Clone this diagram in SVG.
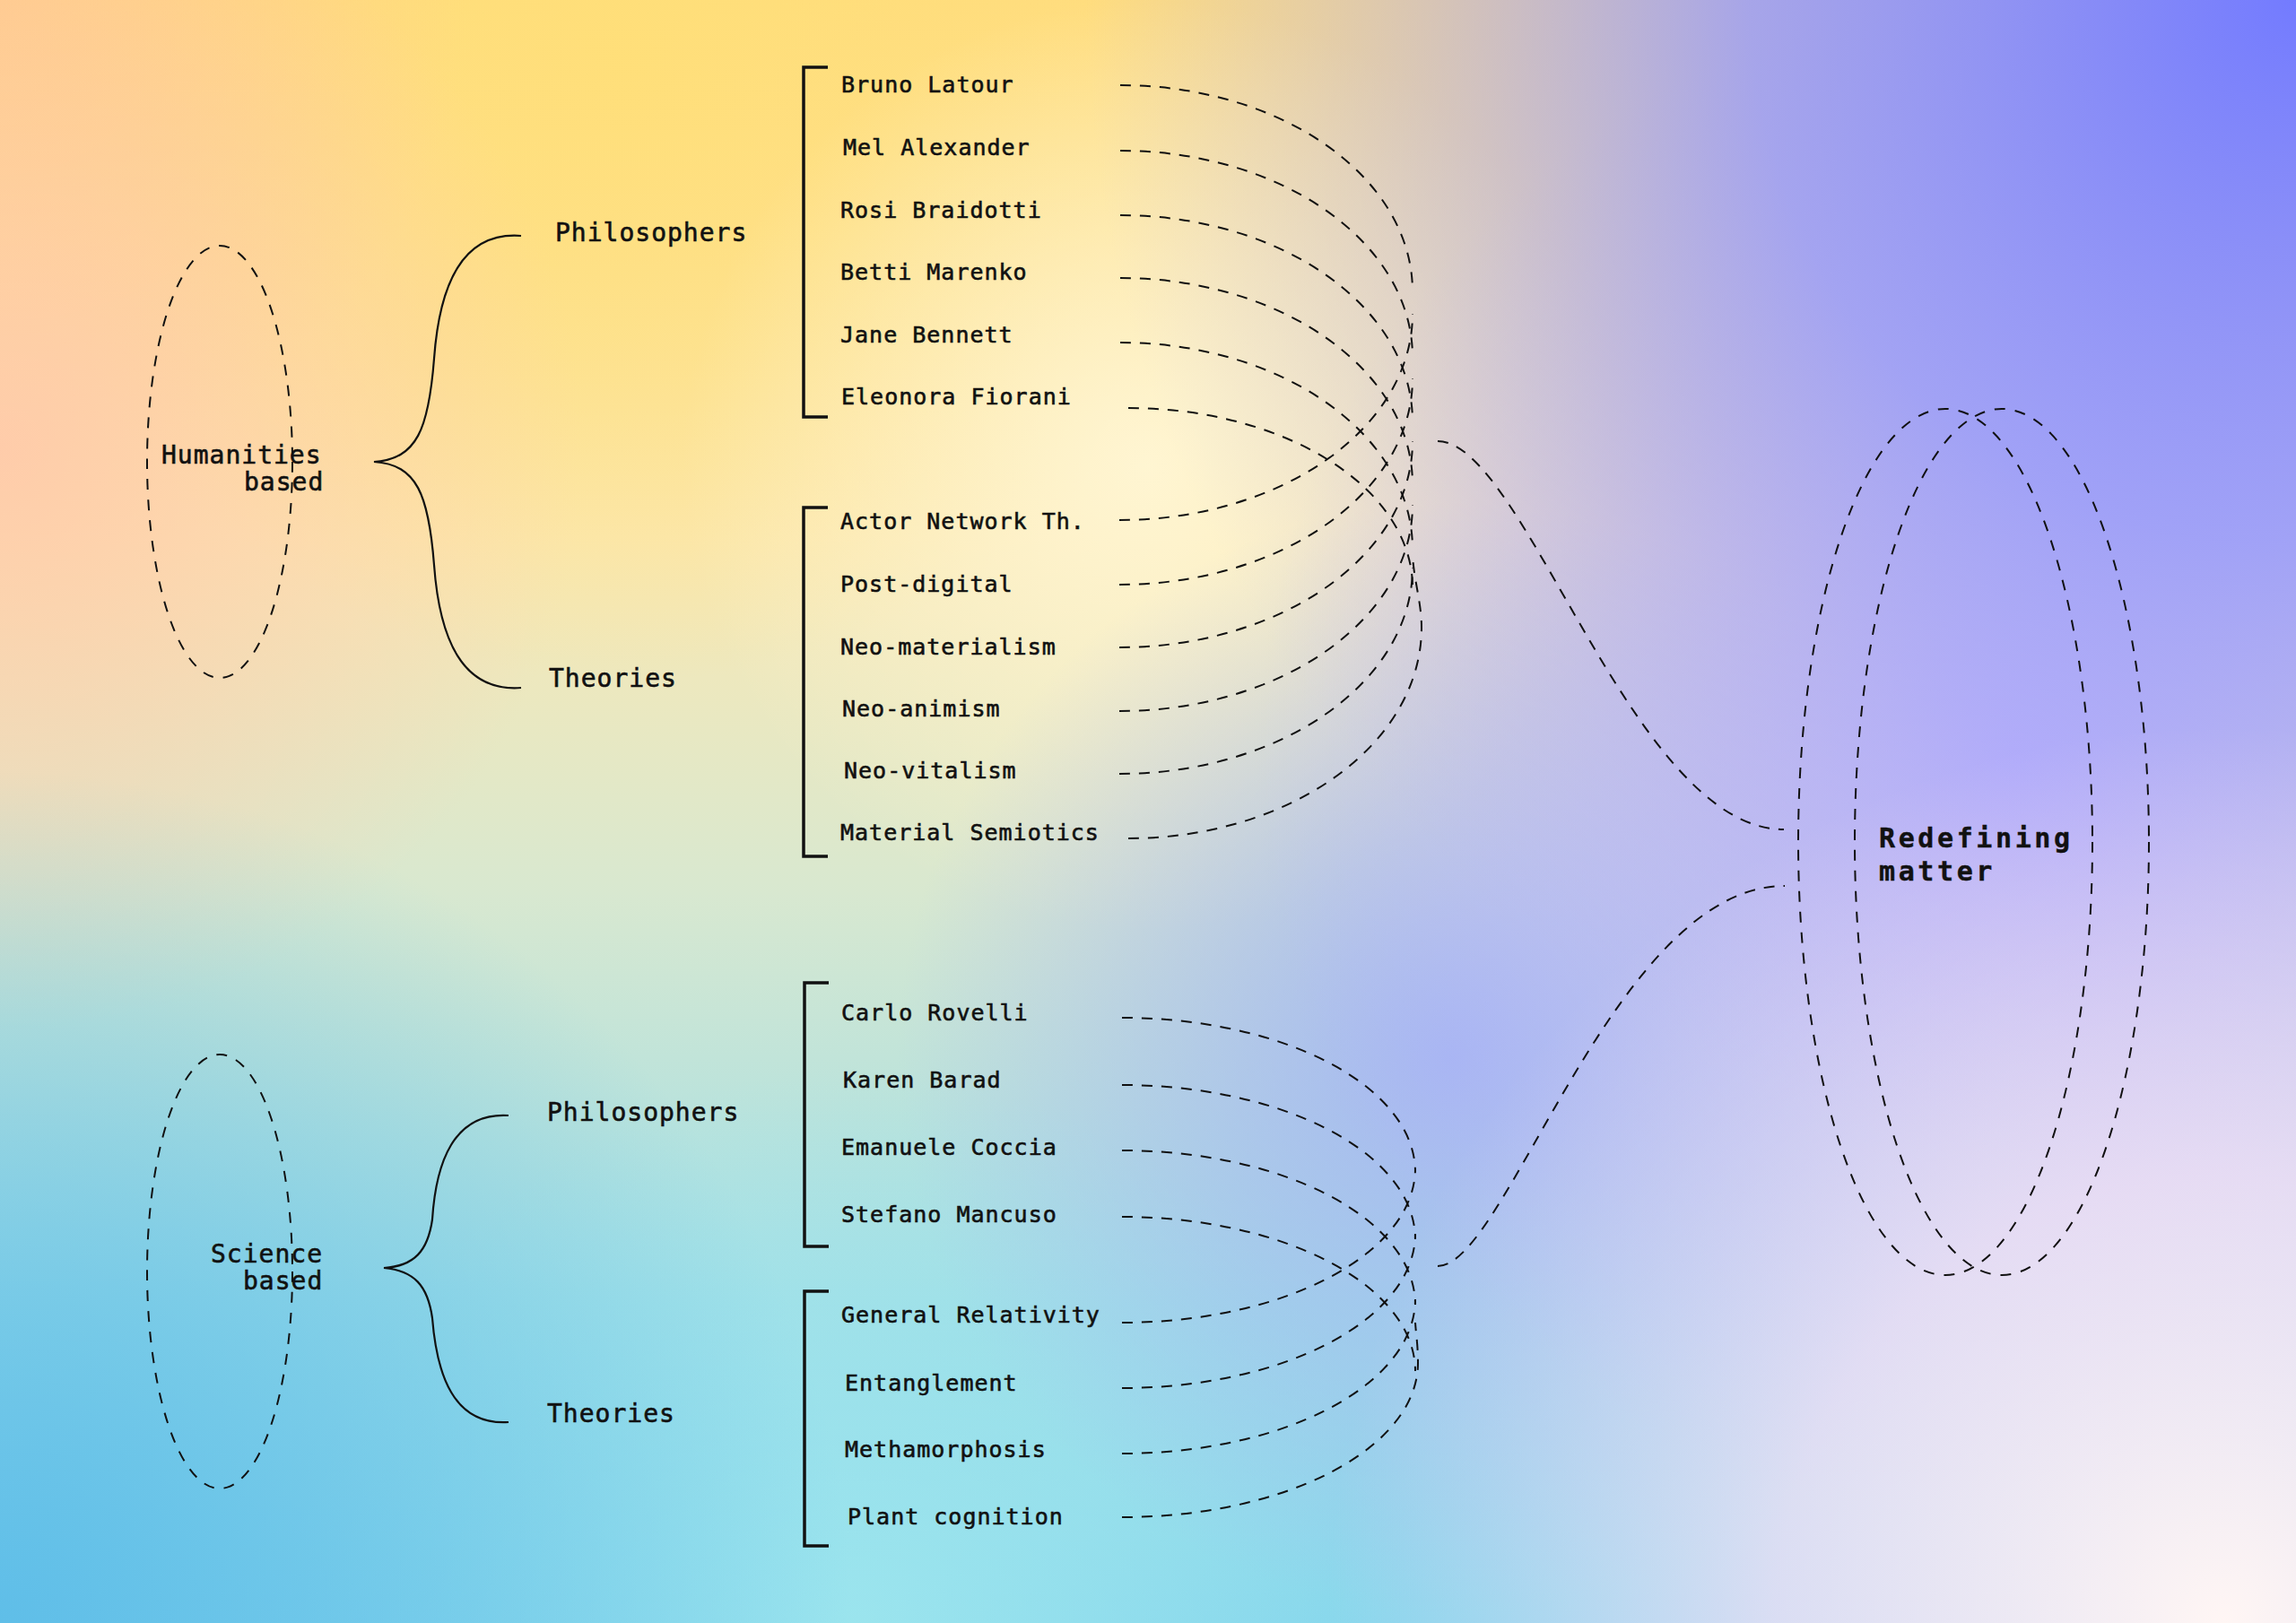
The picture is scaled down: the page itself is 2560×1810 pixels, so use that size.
<svg xmlns="http://www.w3.org/2000/svg" width="2560" height="1810" viewBox="0 0 2560 1810">
<defs>
<style>
.t{font-family:"DejaVu Sans Mono","Liberation Mono",monospace;fill:#111;stroke:#111;stroke-width:0.6px}
.h{font-size:28px;letter-spacing:1px}
.n{font-size:25px;letter-spacing:1px}
.ttl{font-size:30px;font-weight:bold;letter-spacing:3.6px;stroke-width:0.4px}
.dash{fill:none;stroke:#111;stroke-width:2;stroke-dasharray:12 10}
.oval{fill:none;stroke:#111;stroke-width:2;stroke-dasharray:12 11}
.brace{fill:none;stroke:#111;stroke-width:2.2}
.bracket{fill:none;stroke:#111;stroke-width:3.5}
</style>
<linearGradient id="base" x1="0" y1="0" x2="0" y2="1">
<stop offset="0" stop-color="#FFDC80"/>
<stop offset="0.33" stop-color="#FBE8B2"/>
<stop offset="0.55" stop-color="#D8E8D0"/>
<stop offset="0.8" stop-color="#A0DEE6"/>
<stop offset="1" stop-color="#86D6EC"/>
</linearGradient>
<radialGradient id="g1" gradientUnits="userSpaceOnUse" cx="2560" cy="0" r="1350">
<stop offset="0" stop-color="#737BFF"/>
<stop offset="0.45" stop-color="#979BFB" stop-opacity="0.85"/>
<stop offset="1" stop-color="#B4B4F4" stop-opacity="0"/>
</radialGradient>
<radialGradient id="g2" gradientUnits="userSpaceOnUse" cx="2480" cy="1810" r="1000">
<stop offset="0" stop-color="#FFF6F4"/>
<stop offset="0.5" stop-color="#F6E0F6" stop-opacity="0.75"/>
<stop offset="1" stop-color="#EBD5F8" stop-opacity="0"/>
</radialGradient>
<radialGradient id="g3" gradientUnits="userSpaceOnUse" cx="2250" cy="850" r="850">
<stop offset="0" stop-color="#BEB0FF" stop-opacity="0.95"/>
<stop offset="1" stop-color="#BEB0FF" stop-opacity="0"/>
</radialGradient>
<radialGradient id="g4" gradientUnits="userSpaceOnUse" cx="1620" cy="1180" r="620">
<stop offset="0" stop-color="#A4B4F3" stop-opacity="0.95"/>
<stop offset="1" stop-color="#A4B4F3" stop-opacity="0"/>
</radialGradient>
<radialGradient id="g5" gradientUnits="userSpaceOnUse" cx="1280" cy="520" r="520">
<stop offset="0" stop-color="#FFF6D4" stop-opacity="0.95"/>
<stop offset="1" stop-color="#FFF6D4" stop-opacity="0"/>
</radialGradient>
<radialGradient id="g6" gradientUnits="userSpaceOnUse" cx="0" cy="500" r="650">
<stop offset="0" stop-color="#FFC9AA" stop-opacity="0.9"/>
<stop offset="1" stop-color="#FFC9AA" stop-opacity="0"/>
</radialGradient>
<radialGradient id="g7" gradientUnits="userSpaceOnUse" cx="0" cy="0" r="520">
<stop offset="0" stop-color="#FFC890" stop-opacity="0.8"/>
<stop offset="1" stop-color="#FFC890" stop-opacity="0"/>
</radialGradient>
<radialGradient id="g8" gradientUnits="userSpaceOnUse" cx="0" cy="1810" r="950">
<stop offset="0" stop-color="#5FBEE8"/>
<stop offset="1" stop-color="#5FBEE8" stop-opacity="0"/>
</radialGradient>
<radialGradient id="g9" gradientUnits="userSpaceOnUse" cx="950" cy="1810" r="620">
<stop offset="0" stop-color="#A0E8EE" stop-opacity="0.8"/>
<stop offset="1" stop-color="#A0E8EE" stop-opacity="0"/>
</radialGradient>
<radialGradient id="g10" gradientUnits="userSpaceOnUse" cx="700" cy="60" r="700">
<stop offset="0" stop-color="#FFDF78" stop-opacity="0.9"/>
<stop offset="1" stop-color="#FFDF78" stop-opacity="0"/>
</radialGradient>
</defs>

<g id="background">
<rect width="2560" height="1810" fill="url(#base)"/>
<rect width="2560" height="1810" fill="url(#g10)"/>
<rect width="2560" height="1810" fill="url(#g7)"/>
<rect width="2560" height="1810" fill="url(#g6)"/>
<rect width="2560" height="1810" fill="url(#g5)"/>
<rect width="2560" height="1810" fill="url(#g9)"/>
<rect width="2560" height="1810" fill="url(#g8)"/>
<rect width="2560" height="1810" fill="url(#g4)"/>
<rect width="2560" height="1810" fill="url(#g3)"/>
<rect width="2560" height="1810" fill="url(#g1)"/>
<rect width="2560" height="1810" fill="url(#g2)"/>
</g>

<g id="connectors">
<path class="dash" d="M1249,95 A326,230 0 0 1 1575,325"/>
<path class="dash" d="M1249,168 A326,230 0 0 1 1575,398"/>
<path class="dash" d="M1249,240 A326,230 0 0 1 1575,470"/>
<path class="dash" d="M1249,310 A326,230 0 0 1 1575,540"/>
<path class="dash" d="M1249,382 A326,230 0 0 1 1575,612"/>
<path class="dash" d="M1258,455 A317,200 0 0 1 1575,655"/>
<path class="dash" d="M1248,580 A327,230 0 0 0 1575,350"/>
<path class="dash" d="M1248,652 A327,230 0 0 0 1575,422"/>
<path class="dash" d="M1248,722 A327,230 0 0 0 1575,492"/>
<path class="dash" d="M1248,793 A327,230 0 0 0 1575,563"/>
<path class="dash" d="M1248,863 A327,230 0 0 0 1575,633"/>
<path class="dash" d="M1258,935 A327,235 0 0 0 1585,700 C1585,672 1577,650 1575,620"/>
<path class="dash" d="M1251,1135 A327,172 0 0 1 1578,1307"/>
<path class="dash" d="M1251,1210 A327,172 0 0 1 1578,1382"/>
<path class="dash" d="M1251,1283 A327,172 0 0 1 1578,1455"/>
<path class="dash" d="M1251,1357 A327,172 0 0 1 1578,1529"/>
<path class="dash" d="M1251,1475 A327,172 0 0 0 1578,1303"/>
<path class="dash" d="M1251,1548 A327,172 0 0 0 1578,1376"/>
<path class="dash" d="M1251,1621 A327,172 0 0 0 1578,1449"/>
<path class="dash" d="M1251,1692 A330,172 0 0 0 1581,1520 C1581,1500 1579,1490 1578,1475"/>
<path class="dash" d="M1603,492 C1700,492 1820,925 1989,925"/>
<path class="dash" d="M1603,1412 C1680,1412 1800,988 1990,988"/>
<path class="brace" d="M581,263 C515,258 490,318 484,400 C478,478 465,512 417,515 C465,518 478,552 484,630 C490,712 515,772 581,767"/>
<path class="brace" d="M567,1244 C505,1240 486,1298 482,1360 C477,1395 462,1412 428,1414 C462,1417 477,1434 482,1470 C487,1532 505,1590 567,1586"/>
</g>

<g id="humanities">
<ellipse class="oval" cx="245" cy="515" rx="81" ry="241"/>
<text class="t h" x="180" y="517">Humanities</text>
<text class="t h" x="272" y="547">based</text>
</g>
<g id="science">
<ellipse class="oval" cx="245" cy="1418" rx="81" ry="242"/>
<text class="t h" x="235" y="1408">Science</text>
<text class="t h" x="271" y="1438">based</text>
</g>

<g id="hum-philosophers">
<text class="t h" x="619" y="269">Philosophers</text>
<path class="bracket" d="M923,75 H896 V465 H923"/>
<text class="t n" x="938" y="103">Bruno Latour</text>
<text class="t n" x="940" y="173">Mel Alexander</text>
<text class="t n" x="937" y="243">Rosi Braidotti</text>
<text class="t n" x="937" y="312">Betti Marenko</text>
<text class="t n" x="937" y="382">Jane Bennett</text>
<text class="t n" x="938" y="451">Eleonora Fiorani</text>
</g>
<g id="hum-theories">
<text class="t h" x="612" y="766">Theories</text>
<path class="bracket" d="M923,566 H896 V955 H923"/>
<text class="t n" x="937" y="590">Actor Network Th.</text>
<text class="t n" x="937" y="660">Post-digital</text>
<text class="t n" x="937" y="730">Neo-materialism</text>
<text class="t n" x="939" y="799">Neo-animism</text>
<text class="t n" x="941" y="868">Neo-vitalism</text>
<text class="t n" x="937" y="937">Material Semiotics</text>
</g>
<g id="sci-philosophers">
<text class="t h" x="610" y="1250">Philosophers</text>
<path class="bracket" d="M924,1096 H897 V1390 H924"/>
<text class="t n" x="938" y="1138">Carlo Rovelli</text>
<text class="t n" x="940" y="1213">Karen Barad</text>
<text class="t n" x="938" y="1288">Emanuele Coccia</text>
<text class="t n" x="938" y="1363">Stefano Mancuso</text>
</g>
<g id="sci-theories">
<text class="t h" x="610" y="1586">Theories</text>
<path class="bracket" d="M924,1440 H897 V1724 H924"/>
<text class="t n" x="938" y="1475">General Relativity</text>
<text class="t n" x="942" y="1551">Entanglement</text>
<text class="t n" x="942" y="1625">Methamorphosis</text>
<text class="t n" x="945" y="1700">Plant cognition</text>
</g>

<g id="redefining-matter">
<ellipse class="oval" cx="2169" cy="939" rx="164" ry="483"/>
<ellipse class="oval" cx="2232" cy="939" rx="164" ry="483"/>
<text class="t ttl" x="2095" y="945">Redefining</text>
<text class="t ttl" x="2095" y="982">matter</text>
</g>
</svg>
